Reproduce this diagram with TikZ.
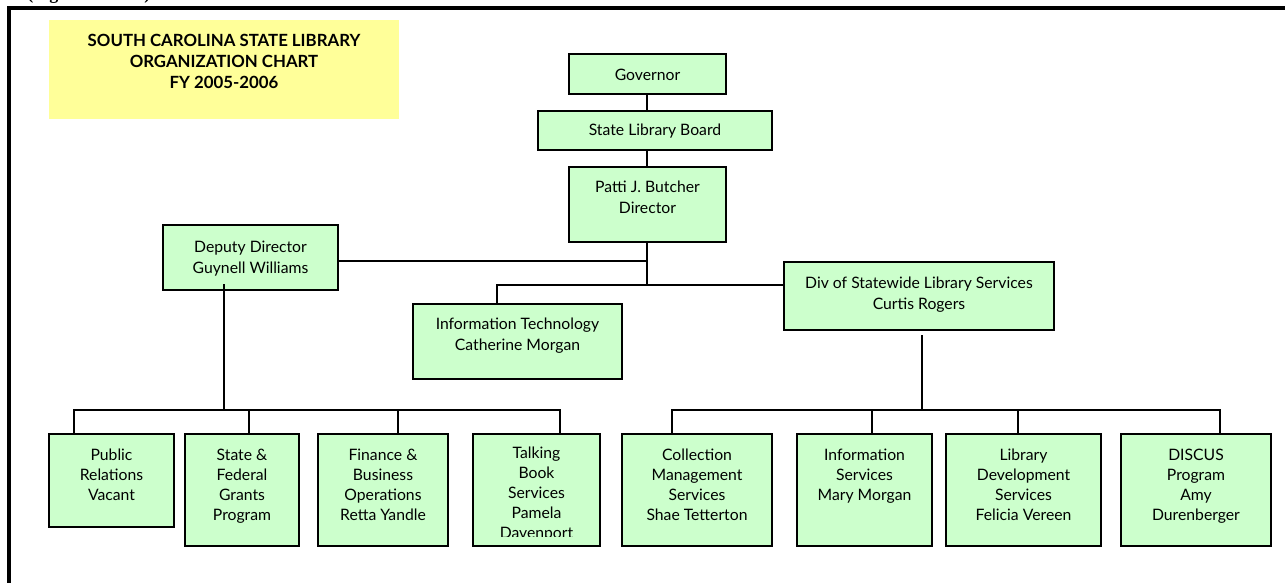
\documentclass[tikz,border=0pt]{standalone}
\usepackage{fontspec}
\setmainfont{Lato}
\newfontfamily\figfont{Liberation Serif}
\usetikzlibrary{fit,shadows}
\definecolor{boxgreen}{HTML}{CCFFCC}
\definecolor{titleyellow}{HTML}{FFFF99}
\newcommand\orgbox[5]{% name, x1, y1, x2, y2
  \path (#2,#3) coordinate (#1-nw) (#4,#5) coordinate (#1-se);
  \node[box, fit=(#1-nw)(#1-se)] (#1) {};}
\begin{document}
\begin{tikzpicture}[x=0.75pt,y=-0.75pt,
  box/.style={draw=black, line width=1.5pt, fill=boxgreen, inner sep=0pt,
    drop shadow={shadow xshift=0.9pt, shadow yshift=-0.9pt, fill=black!45, opacity=1}},
  toptext/.style={anchor=base, inner sep=0pt, align=center, font=\fontsize{11.8}{15.75}\selectfont},
  bottext/.style={anchor=base, inner sep=0pt, align=center, font=\fontsize{11.8}{15}\selectfont},
  conn/.style={line width=1.5pt}]
\useasboundingbox (0,0) rectangle (1285,582);
% clipped figure label at the very top
\node[anchor=base west, inner sep=0pt, font=\figfont\bfseries\fontsize{13.5}{16}\selectfont] (figlabel) at (27,-1) {(Figure II. 10-2)};
% outer frame
\draw[line width=2.3pt] (9,600) -- (9,8) -- (1300,8);
% title
\path (49,20) coordinate (title-nw) (399,119) coordinate (title-se);
\node[fill=titleyellow, inner sep=0pt, fit=(title-nw)(title-se)] (title) {};
\node[anchor=base, inner sep=0pt, align=center, font=\bfseries\fontsize{12.6}{15.5}\selectfont] (titletext) at (224,88) {SOUTH CAROLINA STATE LIBRARY\\ORGANIZATION CHART\\FY 2005-2006};
% top boxes
\orgbox{gov}{569}{54}{726}{94}
\node[toptext] (gov-t) at (647.5,80) {Governor};
\orgbox{slb}{538}{111}{772}{150}
\node[toptext] (slb-t) at (655,135.5) {State Library Board};
\orgbox{dir}{569}{167}{726}{242}
\node[toptext] (dir-t) at (647.5,213) {Patti J. Butcher\\Director};
\orgbox{dep}{163}{225}{338}{290}
\node[toptext] (dep-t) at (250.5,273) {Deputy Director\\Guynell Williams};
\orgbox{it}{413}{304}{622}{379}
\node[toptext] (it-t) at (517.5,350.5) {Information Technology\\Catherine Morgan};
\orgbox{div}{784}{262}{1054}{330}
\node[toptext] (div-t) at (919,309.5) {Div of Statewide Library Services\\Curtis Rogers};
% bottom boxes, left group
\orgbox{pub}{49}{434}{174}{527}
\node[bottext] (pub-t) at (111.5,500) {Public\\Relations\\Vacant};
\orgbox{sfg}{185}{434}{299}{546}
\node[bottext] (sfg-t) at (242,520) {State \&\\Federal\\Grants\\Program};
\orgbox{fin}{318}{434}{448}{546}
\node[bottext] (fin-t) at (383,520) {Finance \&\\Business\\Operations\\Retta Yandle};
\orgbox{tbs}{473}{434}{600}{546}
\begin{scope}
\clip (473,434) rectangle (600,536);
\node[bottext] (tbs-t) at (536.5,538) {Talking\\Book\\Services\\Pamela\\Davenport};
\end{scope}
% bottom boxes, right group
\orgbox{cms}{622}{434}{772}{546}
\node[bottext] (cms-t) at (697,520) {Collection\\Management\\Services\\Shae Tetterton};
\orgbox{ins}{797}{434}{932}{546}
\node[bottext] (ins-t) at (864.5,500) {Information\\Services\\Mary Morgan};
\orgbox{lds}{946}{434}{1101}{546}
\node[bottext] (lds-t) at (1023.5,520) {Library\\Development\\Services\\Felicia Vereen};
\orgbox{dis}{1121}{434}{1271}{546}
\node[bottext] (dis-t) at (1196,520) {DISCUS\\Program\\Amy\\Durenberger};
% connector points
\coordinate (hub) at (647,285);
\coordinate (dep-link) at (338,261);
\coordinate (dir-link) at (647,261);
\coordinate (it-top) at (497,304);
\coordinate (div-link) at (784,285);
\coordinate (dep-drop) at (224,284);
\coordinate (lbar) at (224,410);
\coordinate (div-drop) at (922,335);
\coordinate (rbar) at (922,410);
\coordinate (pub-top) at (74,434);
\coordinate (sfg-top) at (249,434);
\coordinate (fin-top) at (398,434);
\coordinate (tbs-top) at (560,434);
\coordinate (cms-top) at (672,434);
\coordinate (ins-top) at (872,434);
\coordinate (lds-top) at (1018,434);
\coordinate (dis-top) at (1220,434);
% connectors
\draw[conn] (gov.south -| hub) -- (slb.north -| hub);
\draw[conn] (slb.south -| hub) -- (dir.north -| hub);
\draw[conn] (dir.south -| hub) -- (hub);
\draw[conn] (dep-link) -- (dir-link);
\draw[conn] (hub) -| (it-top);
\draw[conn] (hub) -- (div-link);
\draw[conn] (dep-drop) -- (lbar);
\draw[conn] (pub-top) |- (lbar);
\draw[conn] (sfg-top) |- (lbar);
\draw[conn] (fin-top) |- (lbar);
\draw[conn] (tbs-top) |- (lbar);
\draw[conn] (div-drop) -- (rbar);
\draw[conn] (cms-top) |- (rbar);
\draw[conn] (ins-top) |- (rbar);
\draw[conn] (lds-top) |- (rbar);
\draw[conn] (dis-top) |- (rbar);
\end{tikzpicture}
\end{document}
